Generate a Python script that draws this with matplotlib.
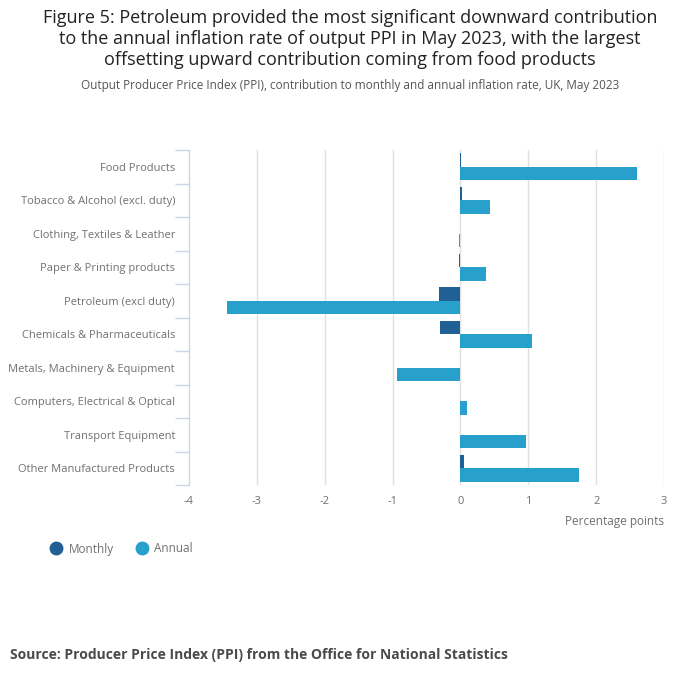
import matplotlib
matplotlib.use("Agg")
import matplotlib.pyplot as plt
from matplotlib.lines import Line2D
import numpy as np

plt.rcParams['font.family'] = ['Open Sans', 'DejaVu Sans']

categories = ["Food Products", "Tobacco & Alcohol (excl. duty)", "Clothing, Textiles & Leather",
              "Paper & Printing products", "Petroleum (excl duty)", "Chemicals & Pharmaceuticals",
              "Metals, Machinery & Equipment", "Computers, Electrical & Optical",
              "Transport Equipment", "Other Manufactured Products"]
monthly = [0.01, 0.03, 0.0, -0.02, -0.31, -0.30, -0.01, 0.0, 0.0, 0.06]
annual = [2.60, 0.43, -0.02, 0.37, -3.44, 1.05, -0.93, 0.09, 0.97, 1.74]
xticks = [-4, -3, -2, -1, 0, 1, 2, 3]

c_month = "#206095"
c_annual = "#27a0cc"
tick_col = "#707070"

fig = plt.figure(figsize=(7, 6.82), dpi=100)
ax = fig.add_axes([189/700, 1-485/682, (664-189)/700, (485-150)/682])

y = np.arange(len(categories))
h = 0.4
ax.barh(y - h/2, monthly, height=h, color=c_month, zorder=3)
ax.barh(y + h/2, annual, height=h, color=c_annual, zorder=3)

ax.set_ylim(len(categories) - 0.5, -0.5)
ax.set_xlim(-4, 3)
ax.set_xticks(xticks)
ax.set_xticklabels([str(t) for t in xticks])
ax.set_yticks(y)
ax.set_yticklabels(categories)
ax.set_yticks(np.arange(-0.5, len(categories), 1), minor=True)

for s in ['top', 'right', 'bottom']:
    ax.spines[s].set_visible(False)
ax.spines['left'].set_color("#ccd6e6")
ax.spines['left'].set_linewidth(1)

ax.tick_params(axis='y', which='major', length=0, pad=10, labelsize=8, labelcolor=tick_col)
ax.tick_params(axis='y', which='minor', length=10, color="#ccd6e6", width=1)
ax.tick_params(axis='x', length=0, pad=8, labelsize=8, labelcolor=tick_col)

for t in xticks[1:]:
    ax.axvline(t, color="#e0e0e0", lw=1, zorder=1)

fig.text(664/700, 1-521/682, "Percentage points", ha='right', va='center', fontsize=8.5, color=tick_col)

fig.text(0.5, 1-39/682,
         "Figure 5: Petroleum provided the most significant downward contribution\n"
         "to the annual inflation rate of output PPI in May 2023, with the largest\n"
         "offsetting upward contribution coming from food products",
         ha='center', va='center', fontsize=13.0, color="#222222", linespacing=1.2)
fig.text(0.5, 1-86/682,
         "Output Producer Price Index (PPI), contribution to monthly and annual inflation rate, UK, May 2023",
         ha='center', va='center', fontsize=8.5, color="#555555")

handles = [Line2D([], [], marker='o', ls='', color=c_month, markersize=9, label='Monthly'),
           Line2D([], [], marker='o', ls='', color=c_annual, markersize=9, label='Annual')]
leg = fig.legend(handles=handles, loc='center left', bbox_to_anchor=(37/700, 1-549/682), ncol=2,
                 frameon=False, fontsize=8.5, handletextpad=0.27, columnspacing=1.63, handlelength=1.5)
for t in leg.get_texts():
    t.set_color(tick_col)

fig.text(10/700, 1-655/682, "Source: Producer Price Index (PPI) from the Office for National Statistics",
         ha='left', va='center', fontsize=10.0, fontweight='bold', color="#4a4a4a")

fig.savefig("out.png", dpi=100)
